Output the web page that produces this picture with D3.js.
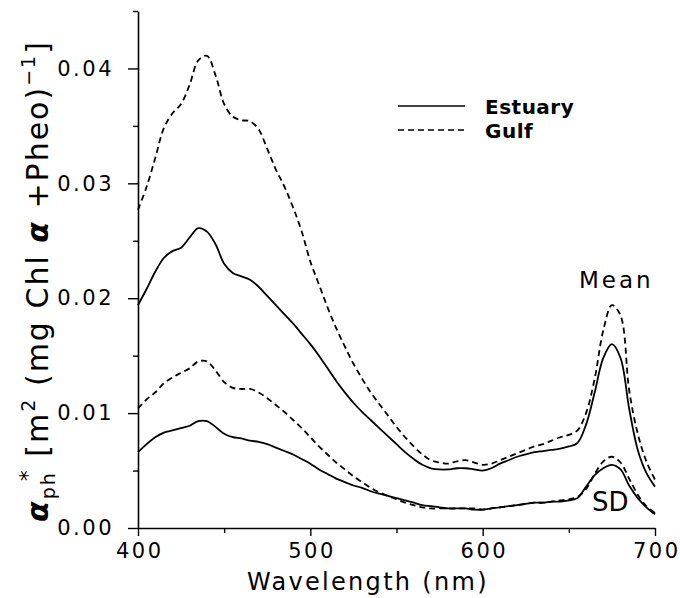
<!DOCTYPE html>
<html>
<head>
<meta charset="utf-8">
<script src="https://cdn.jsdelivr.net/npm/d3@7"></script>
<style>
  html, body { margin: 0; padding: 0; background: #fff; }
  svg { display: block; }
  text { font-family: "DejaVu Sans", sans-serif; fill: #000; }
</style>
</head>
<body>
<svg id="chart" width="680" height="598"></svg>
<script>
// ---------- data ----------
const wavelengths = d3.range(400, 701, 5);

const estuaryMean = [
  0.0194, 0.0208, 0.0223, 0.0235, 0.0241, 0.0244, 0.0253, 0.0261, 0.0258, 0.0247,
  0.0230, 0.0222, 0.0219, 0.0216, 0.0210, 0.0202, 0.0194, 0.0186, 0.0178, 0.0169,
  0.0160, 0.0150, 0.0139, 0.0128, 0.0118, 0.0109, 0.0101, 0.0094, 0.0087, 0.0080,
  0.0073, 0.0066, 0.0060, 0.0055, 0.0052, 0.0051, 0.0051, 0.0052, 0.0052, 0.0051,
  0.0050, 0.0052, 0.0056, 0.0059, 0.0062, 0.0064, 0.0066, 0.0067, 0.0068, 0.0069,
  0.0071, 0.0074, 0.0090, 0.0118, 0.0148, 0.0160, 0.0148, 0.0104, 0.0068, 0.0048,
  0.0036
];
const gulfMean = [
  0.0277, 0.0297, 0.0322, 0.0348, 0.0361, 0.0369, 0.0386, 0.0407, 0.0411, 0.0394,
  0.0369, 0.0358, 0.0355, 0.0354, 0.0347, 0.0330, 0.0312, 0.0297, 0.0279, 0.0258,
  0.0232, 0.0212, 0.0192, 0.0174, 0.0158, 0.0143, 0.0130, 0.0118, 0.0108, 0.0098,
  0.0088, 0.0079, 0.0071, 0.0064, 0.0059, 0.0057, 0.0056, 0.0058, 0.0059, 0.0057,
  0.0055, 0.0056, 0.0059, 0.0062, 0.0065, 0.0068, 0.0071, 0.0073, 0.0076, 0.0079,
  0.0081, 0.0085, 0.0100, 0.0130, 0.0172, 0.0194, 0.0185, 0.0120, 0.0082, 0.0058,
  0.0042
];
const estuarySD = [
  0.0066, 0.0073, 0.0079, 0.0083, 0.0085, 0.0087, 0.0089, 0.0093, 0.0093, 0.0088,
  0.0082, 0.0079, 0.0078, 0.0076, 0.0075, 0.0073, 0.0070, 0.0067, 0.0064, 0.0060,
  0.0056, 0.0051, 0.0047, 0.0043, 0.0040, 0.0037, 0.0035, 0.0032, 0.0030, 0.0028,
  0.0026, 0.0024, 0.0022, 0.0020, 0.0019, 0.0018, 0.0017, 0.0017, 0.0017, 0.0016,
  0.0016, 0.0017, 0.0018, 0.0019, 0.0020, 0.0021, 0.0022, 0.0022, 0.0023, 0.0023,
  0.0024, 0.0026, 0.0036, 0.0046, 0.0052, 0.0055, 0.0051, 0.0037, 0.0026, 0.0018,
  0.0012
];
const gulfSD = [
  0.0104, 0.0112, 0.0118, 0.0126, 0.0131, 0.0135, 0.0139, 0.0145, 0.0145, 0.0137,
  0.0127, 0.0122, 0.0121, 0.0121, 0.0118, 0.0113, 0.0107, 0.0101, 0.0094, 0.0087,
  0.0079, 0.0071, 0.0064, 0.0057, 0.0051, 0.0045, 0.0040, 0.0035, 0.0031, 0.0028,
  0.0025, 0.0022, 0.0020, 0.0018, 0.0017, 0.0017, 0.0017, 0.0017, 0.0017, 0.0017,
  0.0016, 0.0017, 0.0018, 0.0019, 0.0020, 0.0021, 0.0022, 0.0022, 0.0023, 0.0024,
  0.0025, 0.0027, 0.0034, 0.0047, 0.0058, 0.0062, 0.0057, 0.0043, 0.0029, 0.0019,
  0.0013
];

const xMajorTicks = [400, 500, 600, 700];
const xMinorTicks = [450, 550, 650];
const yMajorTicks = [0, 0.01, 0.02, 0.03, 0.04];
const yMinorTicks = [0.005, 0.015, 0.025, 0.035, 0.045];

const seriesList = [
  { name: "Estuary", kind: "mean", values: estuaryMean },
  { name: "Gulf", kind: "mean", values: gulfMean },
  { name: "Estuary", kind: "sd", values: estuarySD },
  { name: "Gulf", kind: "sd", values: gulfSD }
];

// ---------- layout ----------
const W = 680, H = 598;
const margin = { left: 138, top: 11, right: 25, bottom: 70 };
const svg = d3.select("#chart");

const x = d3.scaleLinear().domain([400, 700]).range([margin.left, W - margin.right]);
const y = d3.scaleLinear().domain([0, 0.045]).range([H - margin.bottom, margin.top]);

const dashFor = name => name === "Gulf" ? "6,4" : null;

// ---------- axes ----------
const xAxis = svg.append("g").attr("transform", `translate(0,${y(0)})`);
xAxis.call(d3.axisBottom(x).tickValues(xMajorTicks).tickFormat(d3.format("d"))
  .tickSize(8).tickSizeOuter(0).tickPadding(7));
xAxis.append("g").call(d3.axisBottom(x).tickValues(xMinorTicks).tickFormat("")
  .tickSize(5).tickSizeOuter(0)).select(".domain").remove();

const yAxis = svg.append("g").attr("transform", `translate(${x(400)},0)`);
yAxis.call(d3.axisLeft(y).tickValues(yMajorTicks).tickFormat(d3.format(".2f"))
  .tickSize(10).tickSizeOuter(0).tickPadding(14));
yAxis.append("g").call(d3.axisLeft(y).tickValues(yMinorTicks).tickFormat("")
  .tickSize(5).tickSizeOuter(0)).select(".domain").remove();

svg.selectAll(".domain").attr("stroke", "#000").attr("stroke-width", 1.6);
svg.selectAll(".tick line").attr("stroke", "#000").attr("stroke-width", 1.4);
svg.selectAll(".tick text").style("font-family", "DejaVu Sans").style("font-size", "21px")
  .attr("letter-spacing", "2.5");
// keep x labels centred despite trailing letter-spacing
xAxis.selectAll(".tick text").attr("dx", "1.2");

// ---------- curves ----------
const line = d3.line()
  .x((d, i) => x(wavelengths[i]))
  .y(d => y(d))
  .curve(d3.curveCatmullRom.alpha(0.5));

svg.append("g").selectAll("path").data(seriesList).join("path")
  .attr("d", s => line(s.values))
  .attr("fill", "none")
  .attr("stroke", "#000")
  .attr("stroke-width", 1.8)
  .attr("stroke-dasharray", s => dashFor(s.name));

// ---------- annotations ----------
svg.append("text").attr("x", 579).attr("y", 288).attr("font-size", 23)
  .attr("letter-spacing", 3).text("Mean");
svg.append("text").attr("x", 592).attr("y", 511).attr("font-size", 26).text("SD");

// ---------- legend ----------
const legendItems = ["Estuary", "Gulf"];
const legend = svg.append("g");
legendItems.forEach((name, i) => {
  const ly = 106 + i * 24;
  legend.append("line").attr("x1", 398).attr("x2", 465).attr("y1", ly).attr("y2", ly)
    .attr("stroke", "#000").attr("stroke-width", 1.6).attr("stroke-dasharray", dashFor(name));
  legend.append("text").attr("x", 485).attr("y", ly + 8).attr("font-size", 20)
    .attr("font-weight", "bold").attr("letter-spacing", 0.5).text(name);
});

// ---------- axis titles ----------
svg.append("text").attr("x", 247).attr("y", 590).attr("font-size", 24)
  .attr("letter-spacing", 2.3).text("Wavelength (nm)");

const yt = svg.append("text")
  .attr("transform", "translate(48,281) rotate(-90)")
  .attr("text-anchor", "middle")
  .attr("font-size", 30)
  .attr("letter-spacing", 2);
yt.append("tspan").attr("font-weight", "bold").attr("font-style", "italic").text("α");
yt.append("tspan").attr("font-size", 19).attr("dy", 7).text("ph");
yt.append("tspan").attr("font-size", 22).attr("dx", -10).attr("dy", -20).text("*");
yt.append("tspan").attr("dy", 13).text("  [m");
yt.append("tspan").attr("font-size", 19).attr("dy", -13).text("2");
yt.append("tspan").attr("dy", 13).text(" (mg Chl ");
yt.append("tspan").attr("font-weight", "bold").attr("font-style", "italic").text("α");
yt.append("tspan").text(" +Pheo)");
yt.append("tspan").attr("font-size", 19).attr("dy", -13).text("−1");
yt.append("tspan").attr("dy", 13).text("]");
</script>
</body>
</html>
